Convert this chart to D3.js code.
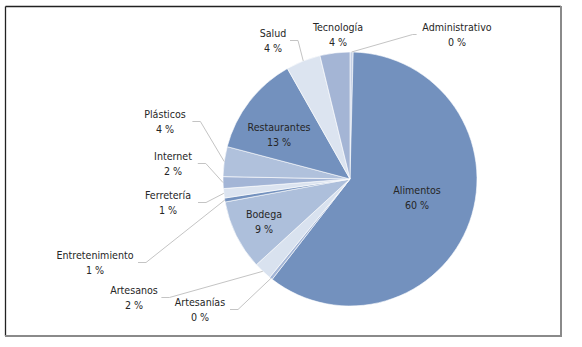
<!DOCTYPE html>
<html>
<head>
<meta charset="utf-8">
<script src="https://cdn.jsdelivr.net/npm/d3@7"></script>
<style>
  body { margin: 0; background: #fff; }
  svg text { font-family: "Liberation Sans Narrow", "DejaVu Sans Condensed", sans-serif; font-size: 10.6px; fill: #262626; }
</style>
</head>
<body>
<svg id="chart" width="582" height="347"></svg>
<script>
// categories in the order the slices run clockwise from 12 o'clock
const categories = ["Administrativo", "Alimentos", "Artesanías", "Artesanos", "Bodega", "Entretenimiento",
                    "Ferretería", "Internet", "Plásticos", "Restaurantes", "Salud", "Tecnología"];
const shares = [0.4, 60.1, 0.4, 2.3, 8.9, 0.5, 1.2, 1.5, 3.8, 12.7, 4.4, 3.8];
const sliceColors = ["#c6d1e6", "#7391be", "#a3b5d6", "#d9e2ef", "#adbfdb", "#7391be",
                     "#dce4f0", "#a3b5d6", "#b0c1dc", "#7391be", "#dce4f0", "#a4b5d5"];

// label layout: inside labels use fixed spots, the others sit where the original put them
const labelLayout = {
    "Administrativo": {x: 457, y: 27, side: "left"},
    "Artesanías": {x: 200, y: 302, side: "right"},
    "Artesanos": {x: 134, y: 290, side: "right"},
    "Entretenimiento": {x: 95, y: 255, side: "right"},
    "Ferretería": {x: 168, y: 195, side: "right"},
    "Internet": {x: 173, y: 156, side: "right"},
    "Plásticos": {x: 165, y: 114, side: "right"},
    "Salud": {x: 273, y: 33, side: "right"},
    "Tecnología": {x: 338, y: 27, side: "none"},
    "Alimentos": {x: 417, y: 190, side: "inside"},
    "Bodega": {x: 264, y: 214, side: "inside"},
    "Restaurantes": {x: 279, y: 127, side: "inside"}
};

const svg = d3.select("#chart");
const cx = 350, cy = 179, radius = 127;

// frame
svg.append("line").attr("x1", 5.5).attr("y1", 6.5).attr("x2", 561).attr("y2", 6.5).attr("stroke", "#222").attr("stroke-width", 1.3);
svg.append("line").attr("x1", 5.5).attr("y1", 6.5).attr("x2", 5.5).attr("y2", 336).attr("stroke", "#222").attr("stroke-width", 1.3);
svg.append("line").attr("x1", 561).attr("y1", 6).attr("x2", 561).attr("y2", 336).attr("stroke", "#8a8a8a").attr("stroke-width", 2);
svg.append("line").attr("x1", 5).attr("y1", 336).attr("x2", 562).attr("y2", 336).attr("stroke", "#8a8a8a").attr("stroke-width", 2);

let data = categories.map((c, i) => ({name: c, value: shares[i], color: sliceColors[i]}));
let pie = d3.pie().sort(null).value(d => d.value);
let arcs = pie(data);
let arc = d3.arc().innerRadius(0).outerRadius(radius);

let g = svg.append("g").attr("transform", "translate(" + cx + "," + cy + ")");
g.selectAll("path").data(arcs).join("path")
    .attr("d", arc)
    .attr("fill", d => d.data.color)
    .attr("stroke", "#fff")
    .attr("stroke-width", 0.6);

// leader lines
let leaders = arcs.filter(d => labelLayout[d.data.name].side === "left" || labelLayout[d.data.name].side === "right");
svg.append("g").selectAll("polyline").data(leaders).join("polyline")
    .attr("fill", "none")
    .attr("stroke", "#c4c4c4")
    .attr("stroke-width", 1)
    .attr("points", d => {
        let L = labelLayout[d.data.name];
        let halfW = d.data.name.length * 2.6 + 4;
        let sx = L.side === "right" ? L.x + halfW : L.x - halfW;
        let ex = L.side === "right" ? sx + 8 : sx - 4;
        let sy = L.y + 7.5;
        let a = (d.startAngle + d.endAngle) / 2;
        let px = cx + radius * Math.sin(a), py = cy - radius * Math.cos(a);
        return [[sx, sy], [ex, sy], [px, py]].map(p => p.join(",")).join(" ");
    });

// labels
let labels = svg.append("g").selectAll("text").data(arcs).join("text")
    .attr("text-anchor", "middle");
labels.append("tspan")
    .attr("x", d => labelLayout[d.data.name].x)
    .attr("y", d => labelLayout[d.data.name].y)
    .attr("dominant-baseline", "central")
    .text(d => d.data.name);
labels.append("tspan")
    .attr("x", d => labelLayout[d.data.name].x)
    .attr("y", d => labelLayout[d.data.name].y + 15)
    .attr("dominant-baseline", "central")
    .text(d => Math.round(d.data.value) + " %");
</script>
</body>
</html>
